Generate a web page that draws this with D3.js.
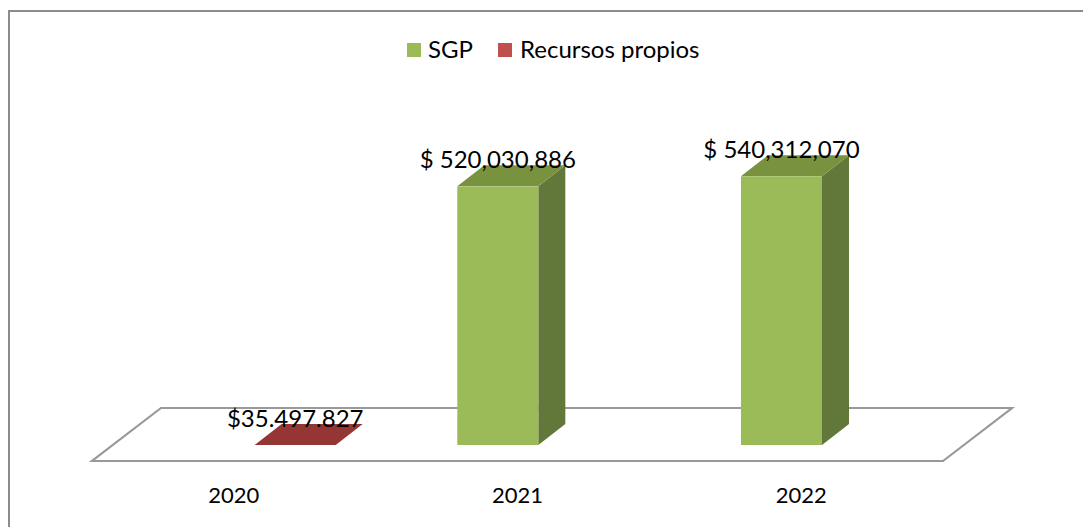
<!DOCTYPE html>
<html>
<head>
<meta charset="utf-8">
<script src="https://cdn.jsdelivr.net/npm/d3@7"></script>
<style>
  html, body { margin: 0; padding: 0; background: #fff; }
  svg { display: block; font-family: Lato, "Open Sans", sans-serif; }
</style>
</head>
<body>
<div id="chart"></div>
<script>
const categories = ["2020", "2021", "2022"];
const seriesNames = ["SGP", "Recursos propios"];
const sgpValues = [0, 520030886, 540312070];
// recursos propios is drawn flat in the original (value is tiny on this scale)
const recursosValues = [35.497827, 0, 0];
const sgpLabels = [null, "$ 520,030,886", "$ 540,312,070"];
const recursosLabels = ["$35.497.827", null, null];

const width = 1083;
const height = 527;

const colors = {
    "SGP": { front: "#9bbb59", top: "#78923f", side: "#62783a", legend: "#9bbb59" },
    "Recursos propios": { front: "#943634", top: "#943634", side: "#772a28", legend: "#c0504d" }
};

// floor geometry (oblique projection)
const floorFrontY = 461;
const floorDepthX = 69;
const floorDepthY = 53;
const barBaseY = 445;
const barDepthX = 27;
const barDepthY = 21;
const floorShift = (floorFrontY - barBaseY) * floorDepthX / floorDepthY;

const svg = d3.select("#chart")
    .append("svg")
    .attr("width", width)
    .attr("height", height);

// chart border
svg.append("rect")
    .attr("x", 9)
    .attr("y", 11)
    .attr("width", 1200)
    .attr("height", 700)
    .attr("fill", "none")
    .attr("stroke", "#8c8c8c")
    .attr("stroke-width", 2);

const x = d3.scaleBand()
    .domain(categories)
    .range([92, 943])
    .padding(0);

const xInner = d3.scaleBand()
    .domain(seriesNames)
    .range([0, x.bandwidth()])
    .paddingInner(0)
    .paddingOuter(0.75);

const y = d3.scaleLinear()
    .domain([0, 600000000])
    .range([barBaseY, 146.6]);

// floor
const x0 = x.range()[0], x1 = x.range()[1];
svg.append("path")
    .attr("d", `M${x0},${floorFrontY} L${x1},${floorFrontY} L${x1 + floorDepthX},${floorFrontY - floorDepthY} L${x0 + floorDepthX},${floorFrontY - floorDepthY} Z`)
    .attr("fill", "none")
    .attr("stroke", "#999999")
    .attr("stroke-width", 2.2)
    .attr("stroke-linejoin", "miter");

// build bars
let bars = [];
categories.forEach((c, i) => {
    bars.push({ cat: c, series: "SGP", value: sgpValues[i], label: sgpLabels[i] });
    bars.push({ cat: c, series: "Recursos propios", value: recursosValues[i], label: recursosLabels[i] });
});
bars = bars.filter(d => d.value > 0);

const barG = svg.append("g").attr("class", "bars");

bars.forEach(d => {
    const left = x(d.cat) + xInner(d.series) + floorShift;
    const right = left + xInner.bandwidth();
    const top = y(d.value);
    const bottom = barBaseY;
    const c = colors[d.series];
    const g = barG.append("g");

    // side
    g.append("path")
        .attr("d", `M${right},${bottom} L${right + barDepthX},${bottom - barDepthY} L${right + barDepthX},${top - barDepthY} L${right},${top} Z`)
        .attr("fill", c.side);
    // top
    g.append("path")
        .attr("d", `M${left},${top} L${right},${top} L${right + barDepthX},${top - barDepthY} L${left + barDepthX},${top - barDepthY} Z`)
        .attr("fill", c.top);
    // front
    g.append("rect")
        .attr("x", left)
        .attr("y", top)
        .attr("width", right - left)
        .attr("height", Math.max(0, bottom - top))
        .attr("fill", c.front);

    if (d.label) {
        svg.append("text")
            .attr("x", (left + right) / 2)
            .attr("y", top - 18)
            .attr("text-anchor", "middle")
            .style("font-size", "24px")
            .style("fill", "#000")
            .text(d.label);
    }
});

// category labels
svg.append("g")
    .selectAll("text")
    .data(categories)
    .enter().append("text")
    .attr("x", d => x(d) + x.bandwidth() / 2)
    .attr("y", 503)
    .attr("text-anchor", "middle")
    .style("font-size", "22px")
    .style("fill", "#000")
    .text(d => d);

// legend
const legendItems = [
    { name: "SGP", x: 407, tx: 428 },
    { name: "Recursos propios", x: 498, tx: 520 }
];
const legend = svg.append("g").attr("class", "legend");
legend.selectAll("rect")
    .data(legendItems)
    .enter().append("rect")
    .attr("x", d => d.x)
    .attr("y", 43)
    .attr("width", 14)
    .attr("height", 14)
    .attr("fill", d => colors[d.name].legend);
legend.selectAll("text")
    .data(legendItems)
    .enter().append("text")
    .attr("x", d => d.tx)
    .attr("y", 58)
    .style("font-size", "24px")
    .style("fill", "#000")
    .text(d => d.name);
</script>
</body>
</html>
